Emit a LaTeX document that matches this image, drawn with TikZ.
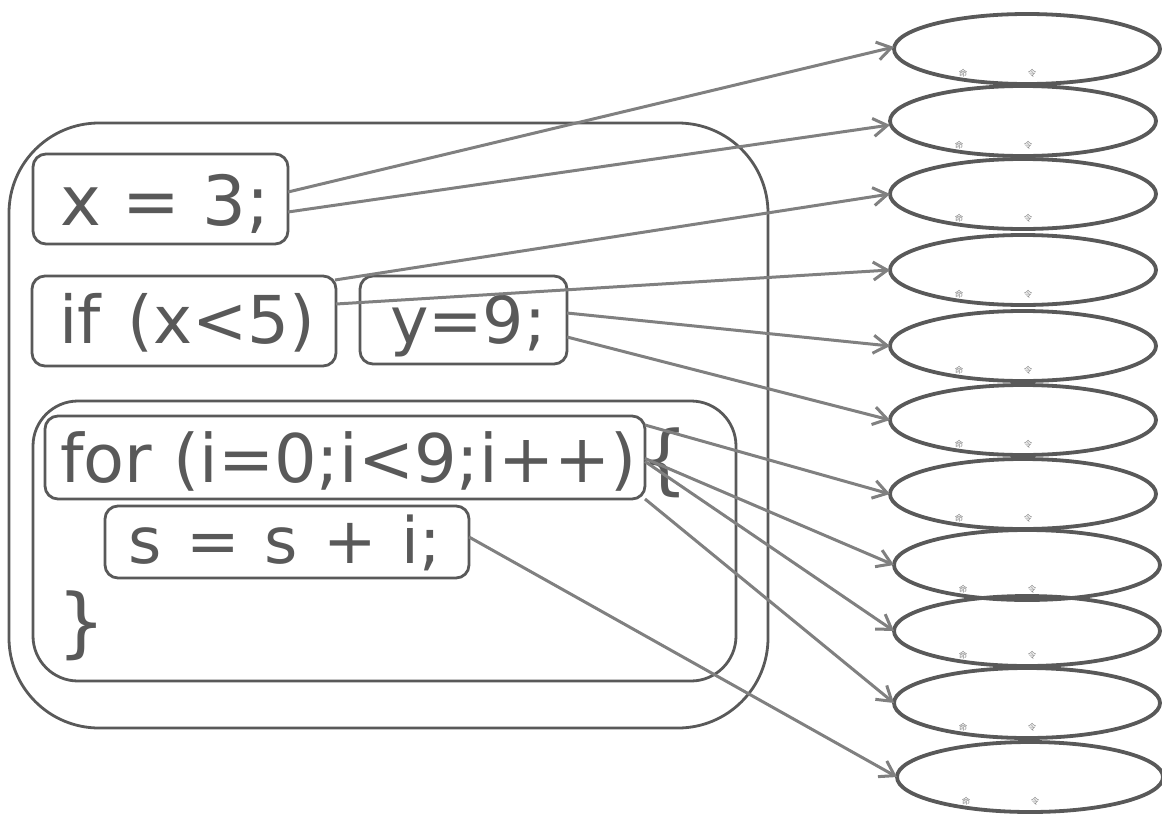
\documentclass[tikz,border=0pt]{standalone}
\usepackage{fontspec}
\setmainfont{DejaVu Sans}
\newfontfamily\cjk{Noto Sans CJK SC}
\usetikzlibrary{arrows.meta,shapes.geometric,calc}
\definecolor{ink}{HTML}{595959}
\definecolor{arr}{HTML}{808080}
\newcommand\mkcode[2]{\makebox[#1][l]{#2}}
\begin{document}
\begin{tikzpicture}[x=1pt,y=-1pt,
  frame/.style={draw=ink, line width=2.8pt, inner sep=0pt, outer sep=0pt},
  code/.style={draw=ink, line width=2.8pt, rounded corners=13pt, inner ysep=0pt, outer sep=0pt, anchor=north west, text=ink},
  brace/.style={anchor=base west, inner sep=0pt, text=ink, font=\fontsize{76}{76}\selectfont},
  ell/.style={draw=ink, ellipse, line width=3.8pt, minimum width=266pt, minimum height=70pt, inner sep=0pt, outer sep=0pt},
  lab/.style={font=\cjk\fontsize{8.5}{8.5}\selectfont, text=arr, inner sep=0pt},
  link/.style={draw=arr, line width=3pt, -{Straight Barb[length=14pt,width=18pt]}}]
\useasboundingbox (0,0) rectangle (1162,814);
% containers
\node[frame, rounded corners=90pt, minimum width=759pt, minimum height=605pt] (outer) at (388.5,425.5) {};
\node[frame, rounded corners=45pt, minimum width=703pt, minimum height=280pt] (loop) at (384.5,541) {};
% statements
\node[code, font=\fontsize{69}{69}\selectfont, inner xsep=27pt, text height=71pt, text depth=19pt] (xa) at (33,154) {\mkcode{201pt}{x = 3;}};
\node[code, font=\fontsize{66}{66}\selectfont, inner xsep=27pt, text height=67pt, text depth=23pt] (ifc) at (32,276) {\mkcode{250pt}{\spaceskip=27pt\relax if (x<5)}};
\node[code, font=\fontsize{65}{65}\selectfont, inner xsep=30pt, text height=67pt, text depth=21pt] (yb) at (360,276) {\mkcode{147pt}{y=9;}};
\node[code, font=\fontsize{67}{67}\selectfont, inner xsep=15pt, text height=66pt, text depth=17pt] (forc) at (45,416) {\mkcode{570pt}{for (i=0;i<9;i++)}};
\node[code, font=\fontsize{64}{64}\selectfont, inner xsep=23pt, text height=57pt, text depth=15pt] (sum) at (105,506) {\mkcode{318pt}{\spaceskip=25pt\relax s = s + i;}};
\node[brace] (ob) at (640,485) {\{};
\node[brace] (cb) at (57,648) {\}};
% command ellipses
\foreach \i/\cx/\cy in {1/1027/49, 2/1023/121, 3/1023/194, 4/1023/270, 5/1023/346, 6/1023/420, 7/1023/494, 8/1027/565, 9/1027/631, 10/1027/703, 11/1030/777} {
  \node[ell] (e\i) at (\cx,\cy) {};
  \node[lab] (m\i) at ([shift={(-64,24)}]e\i.center) {命};
  \node[lab] (l\i) at ([shift={(5,24)}]e\i.center) {令};
}
% links
\draw[link] ([yshift=7pt]xa.east) -- ([yshift=2pt]e1.west);
\draw[link] ([yshift=-13pt]xa.east) -- ([yshift=-4pt]e2.west);
\draw[link] ([xshift=-1pt,yshift=-4pt]ifc.north east) -- (e3.west);
\draw[link] ([yshift=17pt]ifc.east) -- (e4.west);
\draw[link] ([yshift=7pt]yb.east) -- (e5.west);
\draw[link] ([yshift=-17pt]yb.east) -- (e6.west);
\draw[link] ([yshift=-9pt]forc.north east) -- (e7.west);
\draw[link] ([yshift=-1pt]forc.east) -- (e8.west);
\draw[link] ([yshift=-4pt]forc.east) -- (e9.west);
\draw[link] (forc.south east) -- (e10.west);
\draw[link] ([yshift=5pt]sum.east) -- (e11.west);
\end{tikzpicture}
\end{document}
